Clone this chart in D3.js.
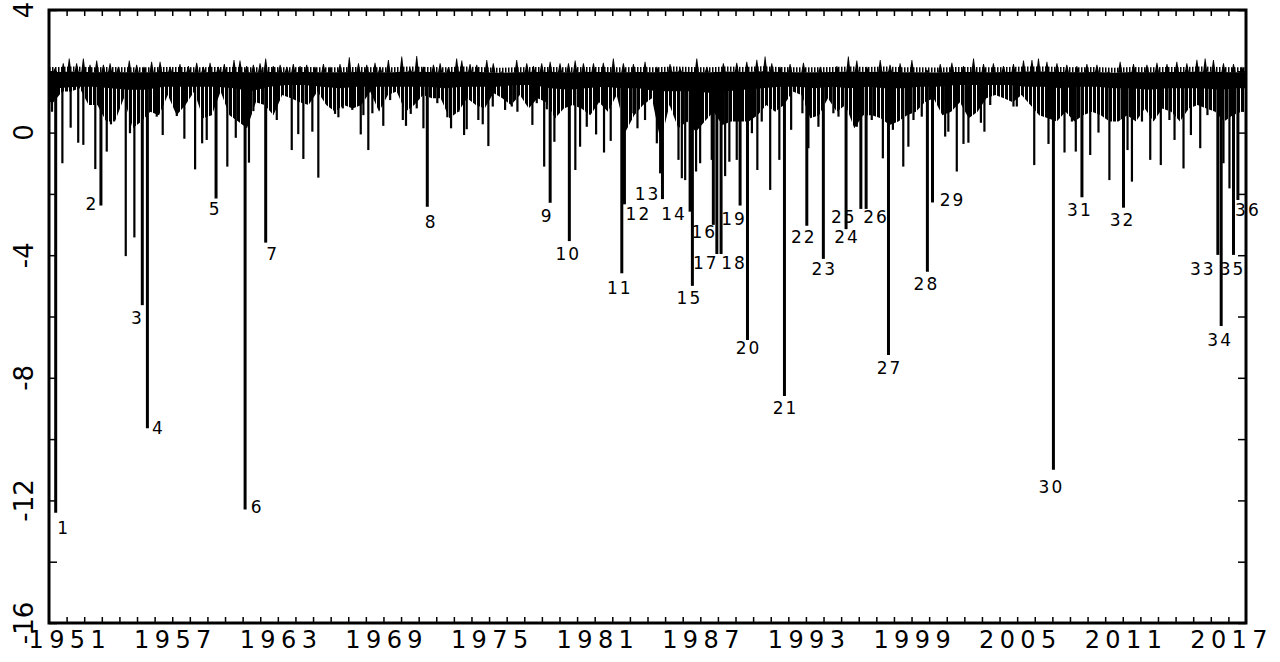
<!DOCTYPE html>
<html>
<head>
<meta charset="utf-8">
<script src="https://cdnjs.cloudflare.com/ajax/libs/d3/7.8.5/d3.min.js"></script>
<style>
  body { margin: 0; background: #fff; overflow: hidden; }
  text { font-family: "DejaVu Sans", sans-serif; fill: #000; }
</style>
</head>
<body>
<div id="plot"></div>
<script>
// chart size and margins (plot box runs 49..1246 x 10..623)
const width = 1280;
const height = 662;
const margin = {top: 10, right: 34, bottom: 39, left: 49};
const innerWidth = width - margin.left - margin.right;
const innerHeight = height - margin.top - margin.bottom;

// ---- data ----
// labelled big drops (decimal year, value)
const spikeDates = [1950.38, 1952.95, 1955.30, 1955.59, 1959.49, 1961.14, 1962.31, 1971.49, 1978.47, 1979.56,
  1982.54, 1982.69, 1984.85, 1986.42, 1986.55, 1987.74, 1987.94, 1988.18, 1989.26, 1989.68,
  1991.78, 1993.05, 1993.99, 1995.28, 1996.12, 1996.42, 1997.69, 1999.90, 2000.19, 2007.06,
  2008.68, 2011.04, 2016.40, 2016.59, 2017.29, 2017.54];
const spikeValues = [-12.4, -2.38, -5.63, -9.65, -2.15, -12.3, -3.59, -2.42, -2.29, -3.54,
  -4.59, -2.34, -2.17, -2.58, -5.0, -3.01, -3.96, -3.96, -2.38, -6.77,
  -8.59, -3.04, -4.12, -3.15, -2.49, -2.49, -7.26, -4.54, -2.28, -11.0,
  -2.11, -2.45, -3.99, -6.31, -3.99, -2.2];
const spikeLabels = ["1","2","3","4","5","6","7","8","9","10","11","12","13","14","15","16","17","18",
  "19","20","21","22","23","24","25","26","27","28","29","30","31","32","33","34","35","36"];

// smaller unlabelled drops below the band
const dipDates = [1950.17, 1950.76, 1951.23, 1951.66, 1951.95, 1952.63, 1953.28, 1953.52, 1954.36, 1954.60,
  1954.85, 1956.12, 1956.46, 1957.26, 1957.69, 1958.30, 1958.70, 1958.96, 1960.13, 1960.61,
  1961.36, 1961.61, 1962.94, 1963.79, 1964.16, 1964.45, 1964.96, 1965.30,
  1966.25, 1966.44, 1966.69, 1967.23, 1967.71, 1967.86, 1968.14, 1968.37, 1968.99, 1969.38,
  1970.10, 1970.28, 1970.55, 1970.89, 1971.27, 1972.06, 1972.63, 1972.84, 1973.26, 1973.58,
  1973.73, 1974.39, 1974.64, 1974.96, 1975.21, 1975.91, 1976.29, 1976.61, 1977.46, 1977.71,
  1978.13, 1978.28, 1978.71, 1979.90, 1980.17, 1980.55, 1981.08, 1981.53, 1981.91, 1983.20,
  1983.43, 1983.86, 1984.53, 1984.72, 1985.76, 1985.95, 1986.14, 1986.76, 1986.99, 1987.65,
  1988.41, 1988.65, 1989.07, 1989.93, 1990.24, 1990.49, 1990.97, 1991.49, 1992.16, 1992.80,
  1993.14, 1993.71, 1994.56, 1994.85, 1995.89, 1996.74, 1997.37, 1997.94, 1998.53, 1998.82,
  1999.11, 1999.58, 2000.91, 2001.09, 2001.57, 2001.95, 2002.23, 2002.94, 2003.14, 2003.47,
  2004.79, 2004.98, 2005.97, 2006.78, 2007.69, 2008.11, 2008.33, 2009.15, 2009.62, 2010.24,
  2010.81, 2011.27, 2011.52, 2012.09, 2012.56, 2013.16, 2013.65, 2013.94, 2014.45, 2014.87,
  2015.40, 2015.81, 2016.72, 2017.06, 2017.82];
const dipValues = [0.68, -1.0, 0.16, -0.33, -0.4, -1.19, -0.62, 0.27, -4.03, -0.02,
  -3.42, 0.52, -0.08, 0.54, -0.2, -1.2, -0.35, -0.24, -1.11, -0.17,
  -0.98, 0.7, 0.41, -0.57, -0.05, -0.86, 0.03, -1.47,
  0.61, 0.5, 0.79, 0.74, -0.06, 0.57, -0.57, 0.63, 0.22, 1.06,
  0.41, 0.22, 0.61, 0.79, 0.14, 0.96, 0.5, 0.14, 0.68, -0.08,
  0.11, 0.41, 0.27, -0.44, 0.85, 0.74, 0.85, 0.68, 0.25, 0.96,
  -1.11, 0.76, -0.3, -1.22, -0.46, 0.19, -0.06, -0.65, -0.27, 0.63,
  0.14, 0.41, -0.35, -1.33, -0.89, -1.49, -1.55, -1.27, -1.0, -0.89,
  -1.42, -0.95, -0.89, -0.02, -1.22, 0.36, -1.87, -0.89, 0.09, 0.63,
  -0.51, 0.19, 0.63, 0.52, 0.19, 0.41, -0.84, 0.09, -1.11, -0.46,
  0.41, 0.52, -0.13, 0.03, -1.27, -0.37, -0.33, 0.32, 0.03, 0.9,
  0.85, 0.85, -1.06, -0.37, -0.65, 0.36, -0.62, -0.73, 0.0, -1.55,
  0.41, -0.57, -1.6, 0.36, -0.89, -1.06, 0.41, -0.24, -1.17, -0.08,
  -0.51, 0.57, -1.0, -1.82, 0.68];

// highest readings above the band
const peakDates = [1950.34, 1950.81, 1951.15, 1951.57, 1951.95, 1952.33, 1952.71, 1953.09, 1953.47, 1953.94,
  1954.56, 1954.98, 1955.40, 1955.83, 1956.31, 1956.88, 1957.44, 1957.92, 1958.39, 1958.77,
  1959.15, 1959.62, 1959.96, 1960.51, 1960.85, 1961.23, 1961.61, 1961.99, 1962.31, 1962.74,
  1963.13, 1963.51, 1963.88, 1964.26, 1964.64, 1965.11, 1965.59, 1965.97, 1966.53, 1967.06,
  1967.58, 1968.05, 1968.52, 1968.81, 1969.28, 1970.04, 1970.51, 1970.89, 1971.27, 1971.84,
  1972.22, 1972.69, 1973.16, 1973.45, 1973.92, 1974.30, 1974.87, 1975.24, 1975.72, 1976.57,
  1977.14, 1977.52, 1977.99, 1978.47, 1979.03, 1979.51, 1979.89, 1980.36, 1980.93, 1981.49,
  1982.06, 1982.63, 1983.20, 1983.86, 1984.53, 1985.28, 1985.85, 1986.80, 1987.37, 1988.31,
  1989.07, 1989.64, 1990.21, 1990.68, 1991.06, 1991.53, 1992.10, 1992.86, 1993.81, 1994.76,
  1995.41, 1995.89, 1996.46, 1997.22, 1997.78, 1998.35, 1999.02, 1999.87, 2000.63, 2001.29,
  2001.95, 2002.52, 2003.09, 2003.65, 2004.22, 2004.79, 2005.36, 2005.84, 2006.21, 2006.69,
  2007.26, 2007.82, 2008.39, 2008.96, 2009.53, 2010.19, 2010.85, 2011.61, 2012.37, 2012.94,
  2013.51, 2014.07, 2014.64, 2015.21, 2015.68, 2016.15, 2016.72, 2017.29, 2017.77];
const peakValues = [2.10, 2.26, 2.42, 2.26, 2.42, 2.21, 2.35, 2.21, 2.26, 2.15,
  2.35, 2.21, 2.15, 2.31, 2.31, 2.15, 2.24, 2.17, 2.28, 2.15,
  2.28, 2.15, 2.24, 2.37, 2.35, 2.17, 2.21, 2.26, 2.42, 2.17,
  2.21, 2.15, 2.24, 2.17, 2.21, 2.15, 2.24, 2.15, 2.24, 2.46,
  2.26, 2.21, 2.28, 2.15, 2.37, 2.48, 2.10, 2.50, 2.15, 2.21,
  2.26, 2.13, 2.42, 2.35, 2.24, 2.21, 2.37, 2.26, 1.99, 2.37,
  2.26, 2.17, 2.26, 2.31, 2.26, 2.26, 2.35, 2.26, 2.26, 2.28,
  2.42, 2.26, 2.24, 2.31, 2.15, 2.24, 2.10, 2.42, 2.15, 2.26,
  2.28, 2.31, 2.38, 2.48, 2.26, 2.15, 2.24, 2.28, 2.15, 2.17,
  2.48, 2.35, 2.15, 2.37, 2.21, 2.26, 2.37, 2.05, 2.24, 2.28,
  2.17, 2.42, 2.24, 2.26, 2.17, 2.24, 2.35, 2.37, 2.42, 2.31,
  2.26, 2.21, 2.17, 2.24, 2.21, 1.99, 2.31, 2.24, 2.21, 2.28,
  2.24, 2.31, 2.26, 2.38, 2.42, 2.37, 2.26, 2.24, 2.15];

// solid part of the band, one reading per year 1950..2017
const bandYears = d3.range(1950, 2018);
const bandTop = [1.98, 1.99, 1.97, 1.98, 1.97, 1.97, 1.98, 1.98, 1.97, 1.98,
  1.98, 1.97, 1.98, 1.97, 1.98, 1.97, 1.97, 1.98, 1.97, 1.97,
  1.99, 1.98, 1.97, 1.99, 1.98, 1.95, 1.97, 1.98, 1.98, 1.97,
  1.98, 1.98, 1.97, 1.98, 1.97, 1.99, 1.98, 1.97, 1.99, 1.98,
  2.0, 1.98, 1.97, 1.97, 1.98, 1.99, 1.98, 1.99, 1.97, 1.97,
  1.96, 1.98, 1.98, 1.97, 1.98, 1.99, 1.99, 1.98, 1.97, 1.98,
  1.95, 1.98, 1.97, 1.98, 1.98, 1.99, 1.98, 1.97];
const bandLow = [1.45, 1.5, 1.5, 1.45, 1.4, 1.4, 1.5, 1.5, 1.5, 1.5,
  1.45, 1.35, 1.5, 1.55, 1.55, 1.5, 1.45, 1.5, 1.5, 1.5,
  1.5, 1.5, 1.45, 1.5, 1.5, 1.5, 1.55, 1.55, 1.45, 1.4,
  1.45, 1.5, 1.45, 1.45, 1.35, 1.35, 1.35, 1.3, 1.35, 1.4,
  1.45, 1.5, 1.5, 1.45, 1.5, 1.45, 1.5, 1.45, 1.45, 1.5,
  1.5, 1.55, 1.55, 1.55, 1.55, 1.5, 1.5, 1.45, 1.5, 1.5,
  1.45, 1.45, 1.4, 1.45, 1.45, 1.45, 1.4, 1.45];

// lower edge of the dense comb under the band, every half year 1950.25..2017.75
const combDates = d3.range(1950.25, 2018, 0.5);
const combLow = [0.99, 1.34, 1.34, 1.45, 0.9, 0.9, 0.36, 0.36, 1.12, 0.14,
  0.36, 0.68, 0.57, 1.23, 0.57, 0.9, 1.34, 0.47, 0.57, 1.34,
  0.57, 0.36, 0.14, 0.99, 0.9, 0.57, 1.23, 1.12, 0.99, 0.9,
  1.34, 0.9, 0.68, 0.9,
  0.79, 0.9, 1.34, 0.68, 1.23, 1.34, 0.68, 0.9, 1.23, 1.12,
  1.12, 0.47, 0.68, 1.12, 0.9, 0.79, 1.29, 1.12, 0.9, 1.23,
  0.79, 1.12, 0.99, 0.47, 0.79, 0.9, 0.79, 0.57, 0.99, 0.68,
  1.23, 0.03, 0.57, 0.9,
  1.12, -0.3, 0.9, 0.14, 0.36, 0.03, 0.36, 0.68, 0.25, 0.36,
  0.36, 0.36, 0.57, 0.9, 0.68, 0.9, 1.34, 1.23, 0.47, 0.57,
  1.12, 0.68, 0.9, 0.14, 0.57, 0.57, 0.47, 0.25, 0.36, 0.57,
  0.68, 0.99, 1.12, 0.57,
  0.68, 0.99, 0.47, 0.68, 1.12, 1.23, 1.12, 0.99, 1.23, 0.9,
  0.57, 0.47, 0.36, 0.68, 0.36, 0.57, 0.68, 0.57, 0.36, 0.36,
  0.57, 0.36, 0.79, 0.36, 0.79, 0.68, 0.36, 0.79, 0.9, 0.79,
  0.68, 0.36, 0.57, 0.68];

// axis labels
const yearTicks = d3.range(1951, 2018);
const yearLabels = [1951, 1957, 1963, 1969, 1975, 1981, 1987, 1993, 1999, 2005, 2011, 2017];
const valueTicks = [-16, -14, -12, -10, -8, -6, -4, -2, 0, 2, 4];
const valueLabels = [-16, -12, -8, -4, 0, 4];

// label placement next to each labelled drop (px: dx, dy to label centre)
const labelOffsets = [[7,15],[-10,-2],[-6,13],[10,0],[-2,11],[11,-3],[6,11],[3,15],[-4,13],[-2,13],
  [-3,15],[13,10],[-16,-5],[-17,2],[-4,12],[-10,7],[-12,9],[12,9],[-7,13],[0,8],
  [0,12],[-4,11],[0,10],[0,8],[-18,8],[9,8],[0,13],[-2,12],[19,-2],[-3,17],
  [-3,13],[-2,12],[-16,14],[-2,14],[-2,14],[9,10]];

// ---- drawing ----
const svg = d3.select("div#plot")
  .append("svg")
    .attr("width", width)
    .attr("height", height)
    .style("display", "block");

svg.append("rect")
    .attr("width", width)
    .attr("height", height)
    .attr("fill", "#fff");

// vertical hatching: coarse for the comb under the band, fine for the fuzz above it
const defs = svg.append("defs");
const combPat = defs.append("pattern")
    .attr("id", "comb")
    .attr("patternUnits", "userSpaceOnUse")
    .attr("width", 4)
    .attr("height", 10);
combPat.append("rect").attr("width", 3).attr("height", 10).attr("fill", "#000");

const fuzzPat = defs.append("pattern")
    .attr("id", "fuzz")
    .attr("patternUnits", "userSpaceOnUse")
    .attr("width", 3)
    .attr("height", 10);
fuzzPat.append("rect").attr("width", 1.5).attr("height", 10).attr("fill", "#000");

const g = svg.append("g").attr("transform", `translate(${margin.left}, ${margin.top})`);

const xScale = d3.scaleLinear().domain([1950, 2018]).range([0, innerWidth]);
const yScale = d3.scaleLinear().domain([-16, 4]).range([innerHeight, 0]);

defs.append("clipPath").attr("id", "clip")
  .append("rect").attr("width", innerWidth).attr("height", innerHeight);

const marks = g.append("g").attr("clip-path", "url(#clip)");

// comb zone: from under the solid band down to the half-yearly lower edge
const comb = combDates.map((d, i) => ({x: d, lo: combLow[i]}));
comb.unshift({x: 1950, lo: combLow[0]});
comb.push({x: 2018, lo: combLow[combLow.length - 1]});

marks.append("path")
    .datum(comb)
    .attr("d", d3.area()
        .x(d => xScale(d.x))
        .y0(d => yScale(d.lo))
        .y1(yScale(1.6)))
    .attr("fill", "url(#comb)");

// solid band
const band = bandYears.map((yr, i) => ({x: yr + 0.5, lo: bandLow[i], hi: bandTop[i]}));
band.unshift({x: 1950, lo: bandLow[0], hi: bandTop[0]});
band.push({x: 2018, lo: bandLow[bandLow.length - 1], hi: bandTop[bandTop.length - 1]});

// thin fuzz just above the band
marks.append("path")
    .datum(band)
    .attr("d", d3.area()
        .x(d => xScale(d.x))
        .y0(d => yScale(d.hi))
        .y1(d => yScale(d.hi) - 5))
    .attr("fill", "url(#fuzz)");

marks.append("path")
    .datum(band)
    .attr("d", d3.area()
        .x(d => xScale(d.x))
        .y0(d => yScale(d.lo))
        .y1(d => yScale(d.hi)))
    .attr("fill", "#000");

// peaks as narrow spikes on top of the band
marks.selectAll("path.peak")
  .data(peakDates)
  .join("path")
    .attr("class", "peak")
    .attr("d", (d, i) => {
      const x = xScale(d), yb = yScale(1.95), yp = yScale(peakValues[i]);
      return `M${x - 2.2},${yb}L${x - 0.4},${yp}L${x + 0.4},${yp}L${x + 2.2},${yb}Z`;
    })
    .attr("fill", "#000");

marks.selectAll("line.dip")
  .data(dipDates)
  .join("line")
    .attr("class", "dip")
    .attr("x1", d => xScale(d))
    .attr("x2", d => xScale(d))
    .attr("y1", yScale(1.9))
    .attr("y2", (d, i) => yScale(dipValues[i]))
    .attr("stroke", "#000")
    .attr("stroke-width", 2.2);

marks.selectAll("line.spike")
  .data(spikeDates)
  .join("line")
    .attr("class", "spike")
    .attr("x1", d => xScale(d))
    .attr("x2", d => xScale(d))
    .attr("y1", yScale(1.9))
    .attr("y2", (d, i) => yScale(spikeValues[i]))
    .attr("stroke", "#000")
    .attr("stroke-width", 3);

// numbers beside the big drops
g.selectAll("text.lab")
  .data(spikeLabels)
  .join("text")
    .attr("class", "lab")
    .attr("x", (d, i) => xScale(spikeDates[i]) + labelOffsets[i][0] + 1)
    .attr("y", (d, i) => yScale(spikeValues[i]) + labelOffsets[i][1] + 6)
    .attr("text-anchor", "middle")
    .attr("font-size", 17)
    .attr("letter-spacing", "2px")
    .text(d => d);

// axes, ticks pointing inward
const xAxisB = d3.axisBottom(xScale).tickValues(yearTicks).tickSizeInner(-6).tickSizeOuter(0)
    .tickPadding(10)
    .tickFormat(d => yearLabels.includes(d) ? String(d) : "");
const xAxisT = d3.axisTop(xScale).tickValues(yearTicks).tickSizeInner(-6).tickSizeOuter(0);
const yAxisL = d3.axisLeft(yScale).tickValues(valueTicks).tickSizeInner(-8).tickSizeOuter(0);
const yAxisR = d3.axisRight(yScale).tickValues(valueTicks).tickSizeInner(-8).tickSizeOuter(0);

const gx = g.append("g").attr("transform", `translate(0, ${innerHeight})`).call(xAxisB);
gx.selectAll("text")
    .attr("font-family", "DejaVu Sans")
    .attr("font-size", 24)
    .attr("letter-spacing", "5.4px")
    .attr("dy", "0.62em")
    .attr("dx", 2.7);
gx.selectAll("text").filter(function() { return this.textContent === ""; }).remove();
g.append("g").call(xAxisT).selectAll("text").remove();
g.append("g").call(yAxisL).selectAll("text").remove();
g.append("g").attr("transform", `translate(${innerWidth}, 0)`).call(yAxisR).selectAll("text").remove();

g.selectAll(".domain").remove();
g.selectAll(".tick line").attr("stroke", "#000").attr("stroke-width", 1.5);

// rotated value labels on the left
g.selectAll("text.ylab")
  .data(valueLabels)
  .join("text")
    .attr("class", "ylab")
    .attr("transform", d => `translate(-16, ${yScale(d)}) rotate(-90)`)
    .attr("text-anchor", "middle")
    .attr("font-size", 26)
    .text(d => d < 0 ? "-" + Math.abs(d) : String(d));

// frame
g.append("rect")
    .attr("width", innerWidth)
    .attr("height", innerHeight)
    .attr("fill", "none")
    .attr("stroke", "#000")
    .attr("stroke-width", 3);
</script>
</body>
</html>
